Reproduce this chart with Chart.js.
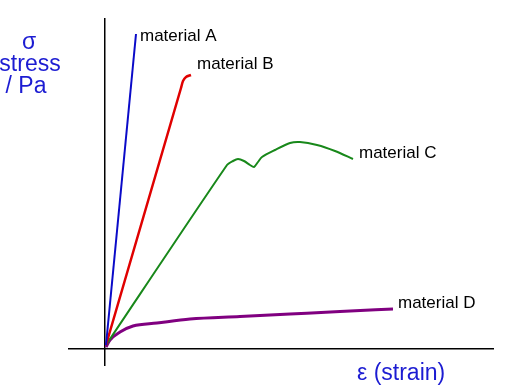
<!DOCTYPE html>
<html>
<head>
<meta charset="utf-8">
<script src="https://cdn.jsdelivr.net/npm/chart.js@4"></script>
<style>
  html, body { margin: 0; padding: 0; background: #fff; }
  #wrap { width: 517px; height: 386px; }
</style>
</head>
<body>
<div id="wrap"><canvas id="myChart" width="517" height="386"></canvas></div>
<script>
// strain / stress (arbitrary units)
const materialNames = ["material A", "material B", "material C", "material D"];

const strainA = [0.1, 3.1];
const stressA = [0.4, 31.5];

const strainB = [0.1, 5.5, 7.6, 7.8, 8.1, 8.6];
const stressB = [0.4, 18.9, 26.1, 26.8, 27.2, 27.4];

const strainC = [0.1, 12.2, 12.8, 13.3, 13.9, 14.5, 14.9, 15.3, 15.7, 17.0, 18.5, 19.5, 21.2, 23.0, 24.8];
const stressC = [0.4, 18.4, 18.8, 19.0, 18.8, 18.4, 18.2, 18.7, 19.2, 19.9, 20.6, 20.7, 20.4, 19.8, 19.0];

const strainD = [0.1, 0.5, 1.5, 2.8, 5.2, 8.5, 13.5, 18.5, 23.5, 28.8];
const stressD = [0.2, 0.9, 1.7, 2.3, 2.6, 3.0, 3.25, 3.5, 3.75, 4.0];

const yTitle = ["σ", "stress", "/ Pa"];
const xTitle = "ε (strain)";

const toPoints = (xs, ys) => xs.map((x, i) => ({ x: x, y: ys[i] }));

const lineColors = ["#0a0ac8", "#e00000", "#18881a", "#800080"];
const lineWidths = [2, 2.5, 2, 3];
const tensions = [0, 0.3, 0.25, 0.4];
// where each name sits relative to the end of its line
const labelOffsets = [[4, 7], [6, -6], [6, -1], [5, -1]];

const series = [
  toPoints(strainA, stressA),
  toPoints(strainB, stressB),
  toPoints(strainC, stressC),
  toPoints(strainD, stressD),
];

const onlyZero = (scale) => { scale.ticks = [{ value: 0 }]; };
const axisColor = (c) => (c.tick && c.tick.value === 0 ? "#000" : "rgba(0,0,0,0)");

const labelPlugin = {
  id: "labels",
  afterDatasetsDraw(chart) {
    const ctx = chart.ctx;
    ctx.save();
    ctx.fillStyle = "#000";
    ctx.font = "17px 'Liberation Sans', Arial, sans-serif";
    ctx.textAlign = "left";
    ctx.textBaseline = "alphabetic";
    chart.data.datasets.forEach((ds, i) => {
      const pts = chart.getDatasetMeta(i).data;
      const last = pts[pts.length - 1];
      ctx.fillText(ds.label, last.x + labelOffsets[i][0], last.y + labelOffsets[i][1]);
    });

    ctx.fillStyle = "#1c1cd2";
    ctx.font = "23px 'Liberation Sans', Arial, sans-serif";
    ctx.textAlign = "center";
    ctx.fillText(yTitle[0], 29, 49);
    ctx.fillText(yTitle[1], 30, 71);
    ctx.fillText(yTitle[2], 26, 93);
    ctx.textAlign = "left";
    ctx.fillText(xTitle, 357, 380);
    ctx.restore();
  },
};

new Chart(document.getElementById("myChart"), {
  type: "scatter",
  data: {
    datasets: series.map((pts, i) => ({
      label: materialNames[i],
      data: pts,
      showLine: true,
      borderColor: lineColors[i],
      borderWidth: lineWidths[i],
      pointRadius: 0,
      tension: tensions[i],
      cubicInterpolationMode: i === 3 ? "monotone" : "default",
      fill: false,
    })),
  },
  options: {
    responsive: false,
    animation: false,
    layout: { padding: { left: 68, right: 23, top: 18, bottom: 20 } },
    plugins: { legend: { display: false }, tooltip: { enabled: false } },
    scales: {
      x: {
        type: "linear",
        min: -3.7,
        max: 38.9,
        afterBuildTicks: onlyZero,
        ticks: { display: false },
        border: { display: false },
        grid: { drawTicks: false, color: axisColor, lineWidth: 1.5 },
      },
      y: {
        type: "linear",
        min: -1.7,
        max: 33.1,
        afterBuildTicks: onlyZero,
        ticks: { display: false },
        border: { display: false },
        grid: { drawTicks: false, color: axisColor, lineWidth: 1.5 },
      },
    },
  },
  plugins: [labelPlugin],
});
</script>
</body>
</html>
